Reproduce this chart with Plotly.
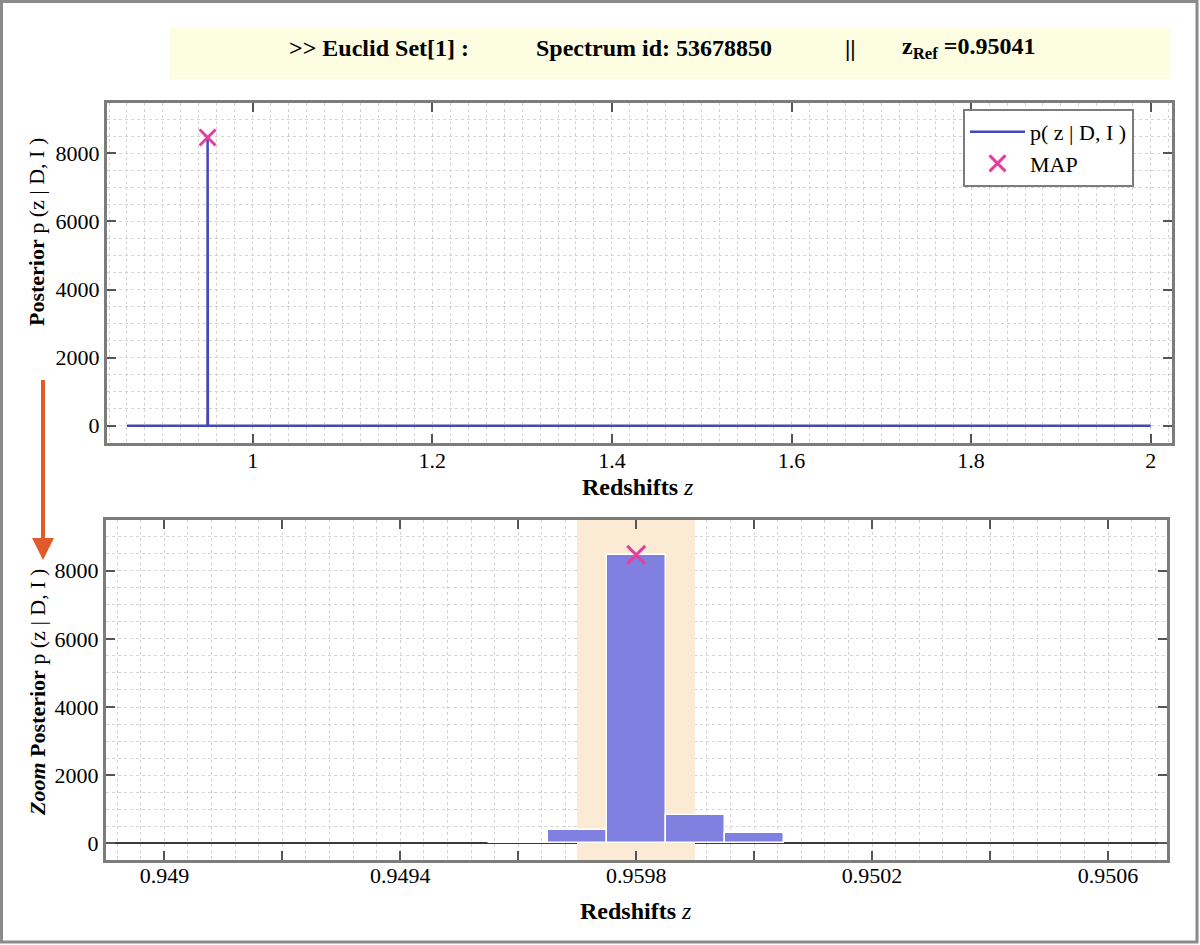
import plotly.graph_objects as go

# ---------------- data ----------------
z_line = [0.860, 0.9495, 0.9496, 0.9497, 0.9498, 0.9499, 0.9500, 0.9501, 2.0]
p_line = [0, 0, 25, 390, 8465, 830, 300, 0, 0]

bin_z = [0.9496, 0.9497, 0.9498, 0.9499, 0.9500]
bin_p = [25, 390, 8465, 830, 300]
bin_width = 0.0001

map_z = [0.9498]
map_p = [8465]

shade_z = [0.9497, 0.9499]

top_ticks = [1.0, 1.2, 1.4, 1.6, 1.8, 2.0]
top_ticktext = ["1", "1.2", "1.4", "1.6", "1.8", "2"]
y_ticks = [0, 2000, 4000, 6000, 8000]
bot_ticks = [0.9490, 0.9492, 0.9494, 0.9496, 0.9498, 0.9500, 0.9502, 0.9504, 0.9506]
bot_ticktext = ["0.949", "", "0.9494", "", "0.9598", "", "0.9502", "", "0.9506"]

title_parts = [">> Euclid Set[1] :", "Spectrum id: 53678850", "||", "z<sub>Ref</sub> =0.95041"]

top_xrange = [0.83775, 2.0237]
top_yrange = [-508, 9477]
bot_xrange = [0.948901, 0.950700]
bot_yrange = [-490, 9488]

# ---------------- geometry helpers ----------------
W, H = 1200, 945
def px(x):
    return x / W
def py(y):
    return 1 - y / H

SERIF = "Liberation Serif, Times New Roman, serif"
BLUE_LINE = "#4646B8"
BAR_BLUE = "#8080E0"
PINK = "#E0409E"

fig = go.Figure()

fig.add_trace(go.Scatter(x=z_line, y=p_line, mode="lines",
                         line=dict(color=BLUE_LINE, width=2.5),
                         name="p( z | D, I )", xaxis="x", yaxis="y"))
fig.add_trace(go.Scatter(x=map_z, y=map_p, mode="markers",
                         marker=dict(symbol="x-thin", size=16, color=PINK,
                                     line=dict(color=PINK, width=3)),
                         name="MAP", xaxis="x", yaxis="y"))

# highlighted range in the zoom panel (drawn first, under the bins)
fig.add_trace(go.Bar(x=[(shade_z[0] + shade_z[1]) / 2], width=shade_z[1] - shade_z[0],
                     y=[bot_yrange[1] - bot_yrange[0]], base=bot_yrange[0],
                     marker=dict(color="#FBEBD5", line=dict(width=0)),
                     hoverinfo="skip", showlegend=False, xaxis="x2", yaxis="y2"))

fig.add_trace(go.Bar(x=bin_z, y=bin_p, width=bin_width,
                     marker=dict(color=BAR_BLUE, line=dict(color="white", width=1.5)),
                     showlegend=False, xaxis="x2", yaxis="y2"))
fig.add_trace(go.Scatter(x=map_z, y=map_p, mode="markers",
                         marker=dict(symbol="x-thin", size=18, color=PINK,
                                     line=dict(color=PINK, width=3)),
                         showlegend=False, xaxis="x2", yaxis="y2"))

grid_col = "#d4d4d4"
common = dict(showline=True, linecolor="#7c7c7c", linewidth=3, mirror="allticks",
              ticks="inside", ticklen=9, tickwidth=2, tickcolor="#555555",
              tickfont=dict(family=SERIF, size=22, color="black"),
              showgrid=True, gridcolor=grid_col, gridwidth=1, griddash="dot",
              zeroline=False, layer="above traces")

def minor(d, t0):
    return dict(dtick=d, tick0=t0, showgrid=True, gridcolor=grid_col,
                gridwidth=1, griddash="dot", ticks="")

fig.update_layout(
    width=W, height=H, autosize=False,
    margin=dict(l=0, r=0, t=0, b=0),
    paper_bgcolor="white", plot_bgcolor="white",
    barmode="overlay", bargap=0,
    xaxis=dict(common, domain=[px(107), px(1172)], range=top_xrange,
               tickmode="array", tickvals=top_ticks, ticktext=top_ticktext,
               minor=minor(0.02, 0), anchor="y", ticklabelstandoff=-4),
    yaxis=dict(common, domain=[py(443), py(103)], range=top_yrange,
               tickmode="array", tickvals=y_ticks,
               minor=minor(500, 0), anchor="x"),
    xaxis2=dict(common, domain=[px(106), px(1167)], range=bot_xrange,
                tickmode="array", tickvals=bot_ticks, ticktext=bot_ticktext,
                minor=minor(0.00004, 0.949), anchor="y2", ticklabelstandoff=-6),
    yaxis2=dict(common, domain=[py(860), py(520)], range=bot_yrange,
                tickmode="array", tickvals=y_ticks,
                minor=minor(500, 0), anchor="x2",
                zeroline=True, zerolinecolor="#3a3a3a", zerolinewidth=2),
    legend=dict(x=px(963), y=py(109), xanchor="left", yanchor="top",
                bgcolor="white", bordercolor="#7c7c7c", borderwidth=2,
                font=dict(family=SERIF, size=22, color="black"),
                tracegroupgap=0, itemwidth=55),
    showlegend=True,
)

shapes = [
    # outer frame
    dict(type="rect", xref="paper", yref="paper", x0=px(1.5), x1=px(1197),
         y0=py(942), y1=py(1.5), line=dict(color="#8a8a8a", width=3), layer="above"),
    # title banner
    dict(type="rect", xref="paper", yref="paper", x0=px(170), x1=px(1170),
         y0=py(79), y1=py(27), fillcolor="#FDFDE1", line=dict(width=0), layer="below"),
]
fig.update_layout(shapes=shapes)

ann = []
title_x = [287, 534, 843, 900]
for t, x in zip(title_parts, title_x):
    ann.append(dict(text="<b>" + t + "</b>", x=px(x), y=py(48), xref="paper", yref="paper",
                    xanchor="left", yanchor="middle", showarrow=False,
                    font=dict(family=SERIF, size=24, color="black")))
ann.append(dict(text="<b>Redshifts</b> <i>z</i>", x=px(638), y=py(487), xref="paper", yref="paper",
                xanchor="center", yanchor="middle", showarrow=False,
                font=dict(family=SERIF, size=24, color="black")))
ann.append(dict(text="<b>Redshifts</b> <i>z</i>", x=px(636), y=py(911), xref="paper", yref="paper",
                xanchor="center", yanchor="middle", showarrow=False,
                font=dict(family=SERIF, size=24, color="black")))
ann.append(dict(text="<b>Posterior</b> p (z | D, I )", x=px(37), y=py(232), xref="paper", yref="paper",
                xanchor="center", yanchor="middle", showarrow=False, textangle=-90,
                font=dict(family=SERIF, size=22, color="black")))
ann.append(dict(text="<b><i>Zoom</i> Posterior</b> p (z | D, I )", x=px(37), y=py(693),
                xref="paper", yref="paper",
                xanchor="center", yanchor="middle", showarrow=False, textangle=-90,
                font=dict(family=SERIF, size=22, color="black")))
# arrow linking the panels
ann.append(dict(text=" ", x=px(43), y=py(560), xref="paper", yref="paper",
                ax=0, ay=-190, axref="pixel", ayref="pixel",
                showarrow=True, arrowhead=2, arrowsize=1.1, arrowwidth=4,
                arrowcolor="#E05A2A"))
fig.update_layout(annotations=ann)

fig.write_html("out.html", config={"displayModeBar": False},
               post_script="document.body.style.margin='0';")
